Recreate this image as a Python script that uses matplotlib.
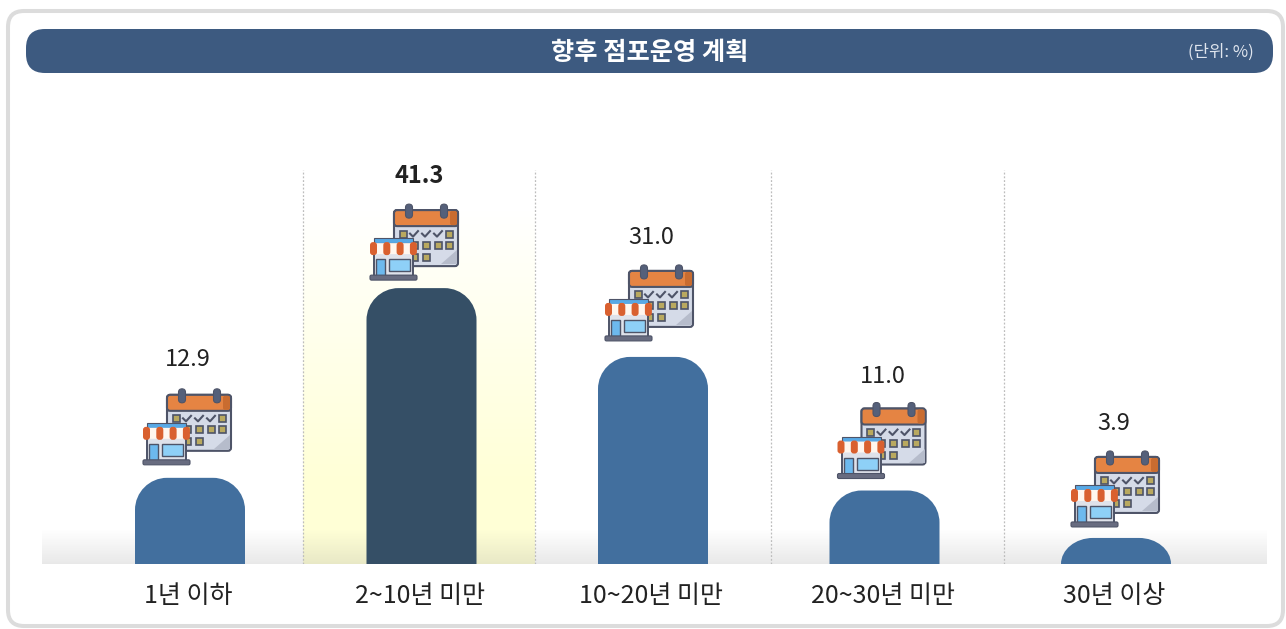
#!/usr/bin/env python3
import numpy as np
from matplotlib import pyplot as plt
from matplotlib.patches import FancyBboxPatch, PathPatch, Polygon
from matplotlib.path import Path

plt.rcParams['font.family'] = ['Noto Sans CJK KR', 'DejaVu Sans']

TITLE = '향후 점포운영 계획'
UNIT = '(단위: %)'
CATEGORIES = ['1년 이하', '2~10년 미만', '10~20년 미만', '20~30년 미만', '30년 이상']
VALUES = [12.9, 41.3, 31.0, 11.0, 3.9]
HIGHLIGHT = 1

W, H = 1286, 629
PX_X = 231.5  # pixels per category
PX_Y = 6.68   # pixels per percent
BAR_W = 110 / PX_X
CORNER = 32

# pixel offsets from the bar top for the icon and the value label
ICON_GAP = [13, 8, 16, 12, 11]
ICON_SHIFT = [0, -4.5, -1, 0, 2]
LABEL_GAP = [118, 112, 119, 114, 114]
SEPARATORS = [0.49, 1.49, 2.51, 3.515]


def rounded_bar(ax, x, v, color):
    rx = CORNER / PX_X
    ry = min(CORNER / PX_Y, v)
    left, right = x - BAR_W / 2, x + BAR_W / 2
    verts = [
        (left, 0), (left, v - ry),
        (left, v - 0.45 * ry), (left + 0.45 * rx, v), (left + rx, v),
        (right - rx, v),
        (right - 0.45 * rx, v), (right, v - 0.45 * ry), (right, v - ry),
        (right, 0), (left, 0),
    ]
    codes = [
        Path.MOVETO, Path.LINETO,
        Path.CURVE4, Path.CURVE4, Path.CURVE4,
        Path.LINETO,
        Path.CURVE4, Path.CURVE4, Path.CURVE4,
        Path.LINETO, Path.CLOSEPOLY,
    ]
    ax.add_patch(PathPatch(Path(verts, codes), fc=color, ec='none', zorder=3))


def box(bg, x, y, w, h, fc, ec='none', lw=0, r=0, z=5):
    if r:
        style = f'round,pad=0,rounding_size={r}'
    else:
        style = 'square,pad=0'
    bg.add_patch(FancyBboxPatch((x, y), w, h, boxstyle=style, fc=fc, ec=ec, lw=lw, zorder=z))


def draw_icon(bg, cx, bottom):
    # cx, bottom: bar centre and the foot of the shop, in figure pixels
    dark = '#4e5468'
    # calendar
    box(bg, cx - 23, bottom - 70, 64, 56, '#d5dbe8', dark, 1.5, r=3)
    box(bg, cx - 23, bottom - 70, 64, 16, '#e58443', dark, 1.5, r=3, z=5.1)
    box(bg, cx + 33, bottom - 69, 7, 14, '#c96c30', r=2, z=5.2)
    bg.add_patch(Polygon([(cx + 40, bottom - 30), (cx + 40, bottom - 16), (cx + 24, bottom - 16)],
                         fc='#b6bccb', ec='none', zorder=5.2))
    for rx in (-8, 27):
        box(bg, cx + rx - 3.5, bottom - 76, 7, 14, '#55607a', dark, 0.8, r=3.5, z=5.3)
    for row, dy in enumerate((-46, -35, -23)):
        for col, dx in enumerate((-14, -3, 9, 21, 32)):
            if row == 0 and col in (1, 2, 3):
                bg.plot([cx + dx - 4, cx + dx - 1, cx + dx + 4],
                        [bottom + dy - 0.5, bottom + dy + 2.5, bottom + dy - 3],
                        color=dark, lw=1.5, zorder=5.3)
            elif row == 2 and col > 2:
                continue
            else:
                box(bg, cx + dx - 3.5, bottom + dy - 3.5, 7, 7, '#b9a95f', dark, 1.2, z=5.3)
    # shop
    box(bg, cx - 43, bottom - 28, 39, 24, '#dfe2ea', dark, 1.4, z=6)
    box(bg, cx - 43, bottom - 42, 39, 5, '#58a9e6', dark, 0.8, z=6.1)
    box(bg, cx - 45, bottom - 37, 43, 11, '#fff6ee', r=3, z=6.2)
    for i in range(4):
        box(bg, cx - 47 + i * 13.3, bottom - 38, 7, 13, '#d9602f', r=3, z=6.25)
    box(bg, cx - 41, bottom - 21, 9, 17, '#6db9ee', dark, 1, z=6.3)
    box(bg, cx - 28, bottom - 21, 21, 12, '#8ed0f7', dark, 1, z=6.3)
    box(bg, cx - 47, bottom - 5, 47, 5, '#686c80', dark, 0.8, r=1.5, z=6.4)


fig = plt.figure(figsize=(W / 100, H / 100), dpi=100)

# whole figure in pixels, y going down, for the frame and the header
bg = fig.add_axes([0, 0, 1, 1], zorder=2)
bg.set_xlim(0, W)
bg.set_ylim(H, 0)
bg.axis('off')
bg.add_patch(FancyBboxPatch((8, 11), 1275, 615, boxstyle='round,pad=0,rounding_size=16',
                            fc='none', ec='#dcdcdc', lw=2.9))
bg.add_patch(FancyBboxPatch((26, 29), 1247, 44, boxstyle='round,pad=0,rounding_size=19',
                            fc='#3d5a80', ec='none'))
bg.text(650, 52, TITLE, color='white', fontsize=18.2, fontweight='bold', ha='center', va='center')
bg.text(1221, 52, UNIT, color='#dfe5ee', fontsize=12, ha='center', va='center')

# chart axes: baseline at y=564
left, right, top, base = 42, 1267, 170, 564
ax = fig.add_axes([left / W, 1 - base / H, (right - left) / W, (base - top) / H], zorder=1)
ax.patch.set_alpha(0)
xlim = ((left - 190) / PX_X, (right - 190) / PX_X)
ylim = (0, (base - top) / PX_Y)

# highlighted column, fades out upward
fade = np.zeros((256, 1, 4))
fade[..., :3] = (1.0, 1.0, 0.84)
fade[..., 3] = np.clip(np.linspace(0, 1.3, 256), 0, 1).reshape(-1, 1)
ax.imshow(fade, extent=(SEPARATORS[0], SEPARATORS[1], 0, 53), origin='upper', aspect='auto', zorder=0)

# grey floor shadow
floor = np.zeros((64, 1, 4))
floor[..., :3] = 0.45
floor[..., 3] = np.linspace(0, 0.16, 64).reshape(-1, 1)
ax.imshow(floor, extent=(xlim[0], xlim[1], 0, 5.2), origin='upper', aspect='auto', zorder=1)

for s in SEPARATORS:
    ax.axvline(s, color='#bdbdbd', lw=0.9, ls=(0, (1.5, 1.5)), zorder=2)

for i, v in enumerate(VALUES):
    rounded_bar(ax, i, v, '#354f66' if i == HIGHLIGHT else '#426f9e')
    ax.annotate(f'{v:.1f}', (i, v), xytext=(-1.5, LABEL_GAP[i] * 0.72), textcoords='offset points',
                ha='center', va='center', fontsize=17, color='#222222',
                fontweight='bold' if i == HIGHLIGHT else 'normal')

ax.set_xlim(*xlim)
ax.set_ylim(*ylim)
ax.set_xticks(np.arange(len(CATEGORIES)) - 0.008, CATEGORIES)
ax.set_yticks([])
ax.tick_params(axis='x', length=0, pad=14, labelsize=18, labelcolor='#222222')
for side in ax.spines.values():
    side.set_visible(False)

# icons go on the pixel axes but hang off the bar tops
to_px = bg.transData.inverted()
for i, v in enumerate(VALUES):
    cx, y = to_px.transform(ax.transData.transform((i, v)))
    draw_icon(bg, cx + ICON_SHIFT[i], y - ICON_GAP[i])

fig.savefig('out.png', dpi=100)
